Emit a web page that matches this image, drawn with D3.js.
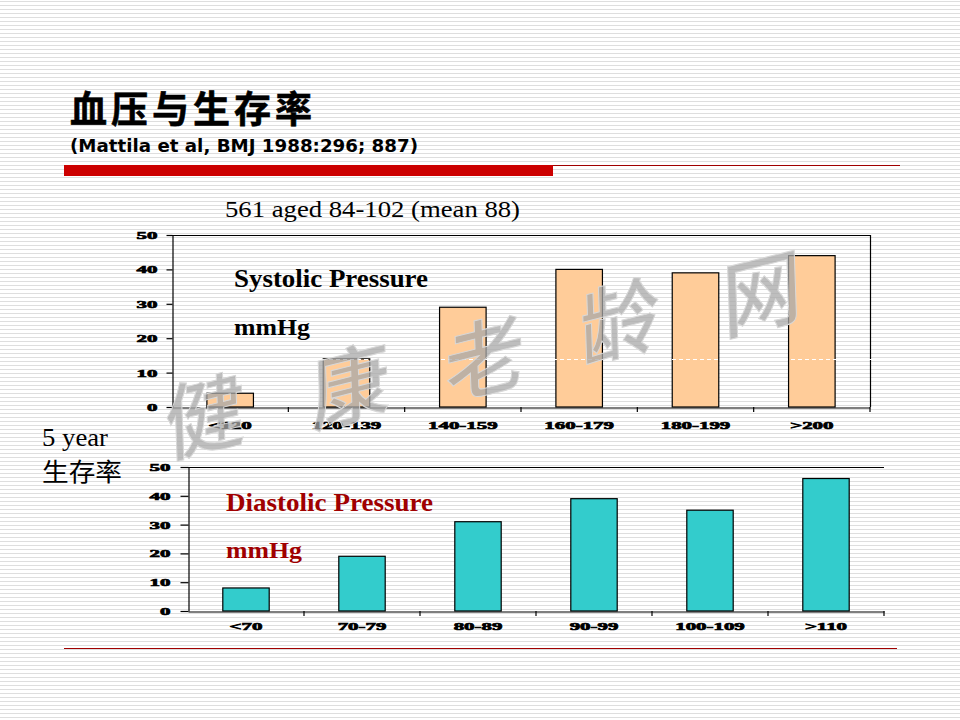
<!DOCTYPE html>
<html><head><meta charset="utf-8">
<script src="https://cdn.jsdelivr.net/npm/d3@7"></script>
<style>
html,body{margin:0;padding:0;background:#fff;}
svg{display:block;}
</style></head>
<body>
<svg id="chart" width="960" height="720"></svg>
<script>
// ---- data ----
const sysCategories = ["<120", "120-139", "140-159", "160-179", "180-199", ">200"];
const sysValues = [4, 14, 29, 40, 39, 44];
const diaCategories = ["<70", "70-79", "80-89", "90-99", "100-109", ">110"];
const diaValues = [8, 19, 31, 39, 35, 46];
const yTickValues = [0, 10, 20, 30, 40, 50];
const yMax = 50;
const watermarkChars = ["健", "康", "老", "龄", "网"];

const svg = d3.select("#chart");
const SERIF = "'Liberation Serif','Times New Roman',serif";
const CJK = "'Noto Sans CJK SC','Noto Sans CJK JP',sans-serif";

// ---- background stripes ----
svg.append("rect").attr("width", 960).attr("height", 720).attr("fill", "#ffffff");
svg.append("g").selectAll("line").data(d3.range(0, 720, 4)).join("line")
  .attr("x1", 0).attr("x2", 960)
  .attr("y1", d => d + 1.5).attr("y2", d => d + 1.5)
  .attr("stroke", "#dedede").attr("stroke-width", 1);

// ---- header ----
svg.append("text").attr("x", 70).attr("y", 123)
  .attr("font-family", CJK).attr("font-weight", 700).attr("font-size", 37)
  .attr("letter-spacing", 4).attr("fill", "#000")
  .attr("stroke", "#000").attr("stroke-width", 0.6).text("血压与生存率");
svg.append("text").attr("x", 70).attr("y", 152)
  .attr("font-family", "'DejaVu Sans',Verdana,sans-serif").attr("font-weight", 700).attr("font-size", 17.5)
  .attr("textLength", 348).attr("lengthAdjust", "spacingAndGlyphs")
  .attr("fill", "#000").text("(Mattila et al, BMJ 1988:296; 887)");
svg.append("rect").attr("x", 64).attr("y", 165).attr("width", 489).attr("height", 11).attr("fill", "#cc0000");
svg.append("line").attr("x1", 553).attr("x2", 900).attr("y1", 165.5).attr("y2", 165.5)
  .attr("stroke", "#a00000").attr("stroke-width", 1.2);
svg.append("line").attr("x1", 64).attr("x2", 897).attr("y1", 648.5).attr("y2", 648.5)
  .attr("stroke", "#a00000").attr("stroke-width", 1);

svg.append("text").attr("x", 225).attr("y", 217)
  .attr("font-family", SERIF).attr("font-size", 24)
  .attr("textLength", 295).attr("lengthAdjust", "spacingAndGlyphs")
  .attr("fill", "#000").text("561 aged 84-102 (mean 88)");

svg.append("text").attr("x", 42).attr("y", 446)
  .attr("font-family", SERIF).attr("font-size", 25)
  .attr("textLength", 66).attr("lengthAdjust", "spacingAndGlyphs")
  .attr("fill", "#000").text("5 year");
svg.append("text").attr("x", 42).attr("y", 481)
  .attr("font-family", CJK).attr("font-size", 25)
  .attr("textLength", 80).attr("lengthAdjust", "spacingAndGlyphs")
  .attr("fill", "#000").text("生存率");

// ---- chart builder ----
function drawChart(opts) {
  const {cats, vals, left, right, top, bottom, fill, tickLen, labelOff, xLabelOff, frameRight} = opts;
  const x = d3.scaleBand().domain(cats).range([left, right]).paddingInner(0.6).paddingOuter(0.3);
  const y = d3.scaleLinear().domain([0, yMax]).range([bottom, top]);
  const g = svg.append("g");

  // bars
  g.selectAll("rect.bar").data(vals).join("rect")
    .attr("class", "bar")
    .attr("x", (d, i) => x(cats[i]))
    .attr("width", x.bandwidth())
    .attr("y", d => y(d))
    .attr("height", d => y(0) - y(d))
    .attr("fill", fill).attr("stroke", "#000").attr("stroke-width", 1.2);

  // frame (top and right)
  g.append("line").attr("x1", left).attr("x2", right).attr("y1", top + 0.5).attr("y2", top + 0.5)
    .attr("stroke", "#000").attr("stroke-width", 1.2);
  if (frameRight) {
    g.append("line").attr("x1", right + 0.5).attr("x2", right + 0.5).attr("y1", top).attr("y2", bottom)
      .attr("stroke", "#000").attr("stroke-width", 1.2);
  }

  // y axis
  const ya = g.append("g").attr("transform", `translate(${left + 0.5},0)`)
    .call(d3.axisLeft(y).tickValues(yTickValues).tickSize(tickLen).tickSizeOuter(0).tickFormat(d3.format("d")));
  ya.select(".domain").attr("stroke", "#000").attr("stroke-width", 1.2);
  ya.selectAll(".tick line").attr("stroke", "#000").attr("stroke-width", 1.2);
  ya.selectAll(".tick text")
    .attr("x", null)
    .attr("transform", `translate(${-labelOff},0) scale(1.9,1)`)
    .attr("font-family", SERIF).attr("font-weight", 700).attr("font-size", 11)
    .attr("stroke", "#000").attr("stroke-width", 0.7)
    .attr("fill", "#000");

  // x axis (labels)
  const xa = g.append("g").attr("transform", `translate(0,${bottom + 0.5})`)
    .call(d3.axisBottom(x).tickSize(0).tickSizeOuter(0));
  xa.select(".domain").attr("stroke", "#000").attr("stroke-width", 1.2);
  xa.selectAll(".tick text")
    .attr("y", null).attr("dy", null)
    .attr("transform", `translate(0,${xLabelOff}) scale(1.9,1)`)
    .attr("font-family", SERIF).attr("font-weight", 700).attr("font-size", 11)
    .attr("stroke", "#000").attr("stroke-width", 0.7)
    .attr("fill", "#000");
  // category boundary ticks
  const step = x.step() / (1 - x.paddingInner()) * (1 - x.paddingInner());
  const full = (right - left) / cats.length;
  g.selectAll("line.btick").data(d3.range(1, cats.length + 1)).join("line")
    .attr("class", "btick")
    .attr("x1", i => left + i * full).attr("x2", i => left + i * full)
    .attr("y1", bottom).attr("y2", bottom + 5)
    .attr("stroke", "#000").attr("stroke-width", 1.2);
  return g;
}

drawChart({cats: sysCategories, vals: sysValues, left: 172, right: 870, top: 235, bottom: 407,
  fill: "#ffcc99", tickLen: 6, labelOff: 15, xLabelOff: 21, frameRight: true});
drawChart({cats: diaCategories, vals: diaValues, left: 188, right: 884, top: 467, bottom: 611,
  fill: "#33cccc", tickLen: 8, labelOff: 18, xLabelOff: 18, frameRight: false});

// ---- in-chart labels ----
svg.append("text").attr("x", 234).attr("y", 287)
  .attr("font-family", SERIF).attr("font-weight", 700).attr("font-size", 25)
  .attr("textLength", 194).attr("lengthAdjust", "spacingAndGlyphs")
  .attr("fill", "#000").text("Systolic Pressure");
svg.append("text").attr("x", 234).attr("y", 335)
  .attr("font-family", SERIF).attr("font-weight", 700).attr("font-size", 24)
  .attr("textLength", 76).attr("lengthAdjust", "spacingAndGlyphs")
  .attr("fill", "#000").text("mmHg");
svg.append("text").attr("x", 226).attr("y", 511)
  .attr("font-family", SERIF).attr("font-weight", 700).attr("font-size", 25)
  .attr("textLength", 207).attr("lengthAdjust", "spacingAndGlyphs")
  .attr("fill", "#a00000").text("Diastolic Pressure");
svg.append("text").attr("x", 226).attr("y", 558)
  .attr("font-family", SERIF).attr("font-weight", 700).attr("font-size", 24)
  .attr("textLength", 76).attr("lengthAdjust", "spacingAndGlyphs")
  .attr("fill", "#a00000").text("mmHg");

// ---- dashed white guide ----
svg.append("line").attr("x1", 0).attr("x2", 960).attr("y1", 359.5).attr("y2", 359.5)
  .attr("stroke", "#ffffff").attr("stroke-width", 1).attr("stroke-dasharray", "4,3");

// ---- watermark ----
const wmPos = [[205, 418], [350, 388], [485, 360], [620, 323], [762, 295]];
svg.append("g").selectAll("text").data(watermarkChars).join("text")
  .attr("transform", (d, i) => `translate(${wmPos[i][0]},${wmPos[i][1]}) rotate(-14) skewX(-12)`)
  .attr("text-anchor", "middle").attr("dy", "0.35em")
  .attr("font-family", CJK).attr("font-size", 82).attr("font-weight", 500)
  .attr("fill", "#a8a8a8").attr("fill-opacity", 0.75)
  .attr("stroke", "#d8d8d8").attr("stroke-width", 1)
  .text(d => d);
</script>
</body></html>
